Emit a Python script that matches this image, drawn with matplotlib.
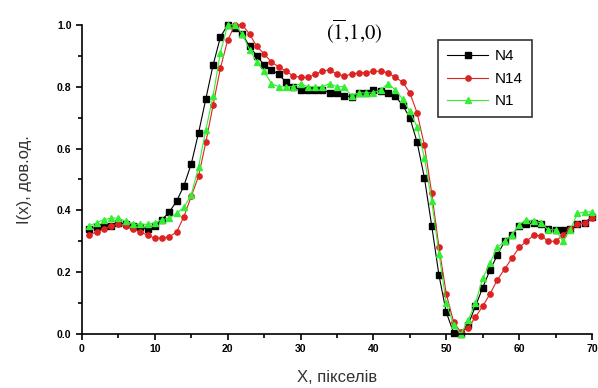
import numpy as np
import matplotlib
matplotlib.use("Agg")
import matplotlib.pyplot as plt
from matplotlib.ticker import MultipleLocator

# Intensity profiles along the (-1,1,0) direction
x = np.arange(1, 71)

n4 = [0.34, 0.345, 0.35, 0.35, 0.36, 0.355, 0.35, 0.345, 0.34, 0.35,
      0.37, 0.395, 0.43, 0.48, 0.55, 0.65, 0.76, 0.87, 0.96, 1.0,
      0.99, 0.97, 0.93, 0.90, 0.87, 0.855, 0.84, 0.815, 0.80, 0.79,
      0.79, 0.79, 0.79, 0.78, 0.78, 0.77, 0.768, 0.78, 0.78, 0.79,
      0.785, 0.78, 0.77, 0.74, 0.70, 0.62, 0.505, 0.35, 0.19, 0.07,
      0.005, 0.0, 0.03, 0.09, 0.15, 0.207, 0.255, 0.30, 0.32, 0.35,
      0.355, 0.36, 0.355, 0.34, 0.335, 0.335, 0.34, 0.355, 0.36, 0.38]

n14 = [0.32, 0.33, 0.34, 0.35, 0.355, 0.35, 0.34, 0.33, 0.32, 0.31,
       0.31, 0.315, 0.33, 0.38, 0.445, 0.51, 0.62, 0.74, 0.86, 0.95,
       1.0, 1.0, 0.97, 0.93, 0.906, 0.88, 0.864, 0.85, 0.835, 0.83,
       0.83, 0.84, 0.85, 0.855, 0.84, 0.835, 0.84, 0.845, 0.845, 0.85,
       0.85, 0.845, 0.83, 0.815, 0.78, 0.715, 0.61, 0.456, 0.28, 0.13,
       0.04, 0.006, 0.02, 0.055, 0.09, 0.13, 0.175, 0.21, 0.245, 0.28,
       0.30, 0.32, 0.318, 0.30, 0.30, 0.32, 0.34, 0.355, 0.36, 0.375]

n1 = [0.35, 0.36, 0.37, 0.375, 0.375, 0.365, 0.355, 0.355, 0.355, 0.36,
      0.37, 0.375, 0.39, 0.41, 0.45, 0.54, 0.66, 0.77, 0.91, 1.0,
      1.0, 0.97, 0.92, 0.88, 0.85, 0.81, 0.80, 0.80, 0.80, 0.81,
      0.80, 0.80, 0.80, 0.81, 0.80, 0.80, 0.77, 0.78, 0.78, 0.78,
      0.79, 0.81, 0.79, 0.76, 0.72, 0.67, 0.57, 0.43, 0.26, 0.10,
      0.03, 0.0, 0.045, 0.10, 0.18, 0.23, 0.28, 0.30, 0.32, 0.353,
      0.37, 0.365, 0.36, 0.337, 0.337, 0.30, 0.337, 0.39, 0.395, 0.395]

series = [
    (n4, "N4", "black", "s"),
    (n14, "N14", "#dd2222", "o"),
    (n1, "N1", "#33ee33", "^"),
]

plt.rcParams["font.family"] = "Liberation Sans"
plt.rcParams["mathtext.fontset"] = "stix"

fig = plt.figure(figsize=(5.98, 3.88), dpi=100)
ax = fig.add_axes([0.137, 0.139, 0.853, 0.797])

for y, label, color, marker in series:
    ax.plot(x, y, color=color, marker=marker, markersize=3.8, linewidth=0.8,
            label=label, clip_on=False)

ax.set_xlim(0, 70)
ax.set_ylim(0, 1.0)
ax.xaxis.set_major_locator(MultipleLocator(10))
ax.xaxis.set_minor_locator(MultipleLocator(5))
ax.yaxis.set_major_locator(MultipleLocator(0.2))
ax.yaxis.set_minor_locator(MultipleLocator(0.1))
ax.set_xticklabels([f"{v:g}" for v in ax.get_xticks()])
ax.set_yticks(np.arange(0, 1.01, 0.2))
ax.set_yticklabels([f"{v:.1f}" for v in np.arange(0, 1.01, 0.2)])

for side in ["top", "right"]:
    ax.spines[side].set_visible(False)
for side in ["left", "bottom"]:
    ax.spines[side].set_linewidth(1.2)

ax.tick_params(which="both", direction="out", width=1.2, labelsize=7.5)
ax.tick_params(which="major", length=4)
ax.tick_params(which="minor", length=3)
for lbl in ax.get_xticklabels() + ax.get_yticklabels():
    lbl.set_fontweight("bold")

ax.set_xlabel("X, пікселів", fontsize=12, color="#333333", labelpad=11)
ax.set_ylabel("I(x), дов.од.", fontsize=12, color="#333333", labelpad=18)

fig.text(0.593, 0.92, r"$(\overline{1}{,}1{,}0)$", fontsize=15,
         ha="center", va="center")

leg = ax.legend(loc="upper left", bbox_to_anchor=(0.698, 0.95),
                fontsize=11, frameon=True, fancybox=False,
                handlelength=2.7, handletextpad=0.4, borderpad=0.6,
                labelspacing=0.55, borderaxespad=0)
leg.get_frame().set_edgecolor("black")
leg.get_frame().set_linewidth(1.2)

fig.savefig("out.png", dpi=100)
